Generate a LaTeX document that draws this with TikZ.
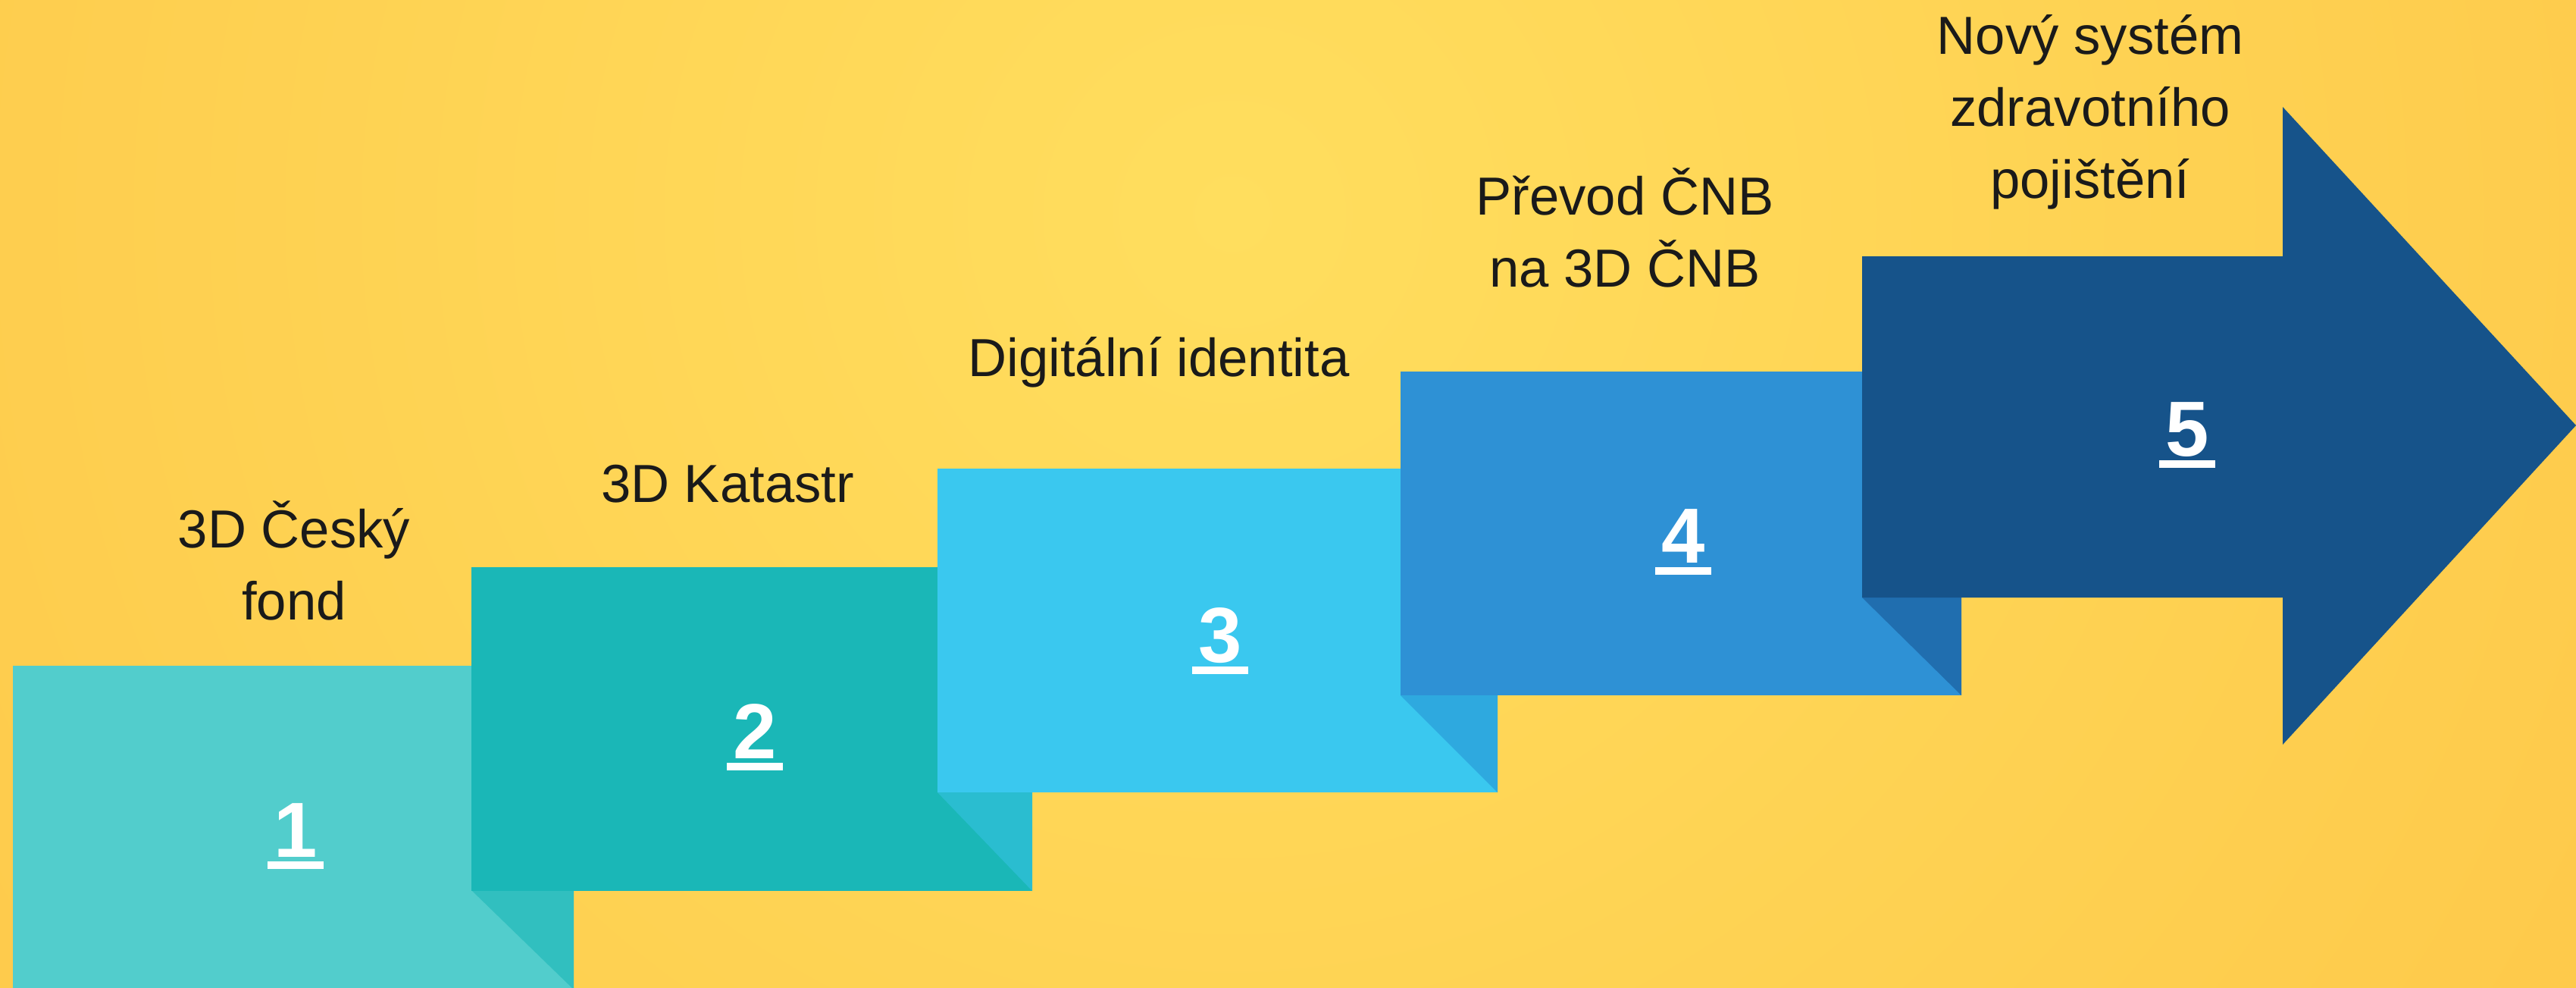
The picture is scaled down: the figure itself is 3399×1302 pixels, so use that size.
\documentclass[tikz,border=0pt]{standalone}
\usepackage{fontspec}
\setmainfont{Liberation Sans}
\definecolor{bgin}{HTML}{FFDE5E}
\definecolor{bgout}{HTML}{FDB638}
\definecolor{ink}{HTML}{1A1A1A}
\definecolor{stepa}{HTML}{52CDCC}
\definecolor{folda}{HTML}{31BFBF}
\definecolor{stepb}{HTML}{1AB7B7}
\definecolor{foldb}{HTML}{2ABDD0}
\definecolor{stepc}{HTML}{3AC8EF}
\definecolor{foldc}{HTML}{2EA9DF}
\definecolor{stepd}{HTML}{2E91D5}
\definecolor{foldd}{HTML}{206EAF}
\definecolor{stepe}{HTML}{16538A}
\newcommand\ulnum[1]{\makebox[0.74cm]{#1}\llap{\rule[-0.16cm]{0.74cm}{0.1cm}}}
\tikzset{
	lbl/.style={anchor=base, align=center, inner sep=0pt, text=ink,
		font=\fontsize{20.1}{26.9}\selectfont},
	num/.style={anchor=base, inner sep=0pt, text=white,
		font=\fontsize{29.3}{35}\selectfont\bfseries},
}
\begin{document}
\begin{tikzpicture}[x=0.01cm, y=-0.01cm]
		\useasboundingbox (0, 0) rectangle (3399, 1302);
		\begin{scope}
			\clip (0, 0) rectangle (3399, 1302);
			\shade [inner color=bgin, outer color=bgout] (1626, 282) circle (4000);
		\end{scope}
		% steps, each one folded under the next
		\fill [stepa] (17, 878) rectangle (757, 1305);
		\fill [folda] (622, 1174) -- (757, 1174) -- (757, 1305) -- cycle;
		\fill [stepb] (622, 748) rectangle (1362, 1175);
		\fill [foldb] (1237, 1045) -- (1362, 1045) -- (1362, 1175) -- cycle;
		\fill [stepc] (1237, 618) rectangle (1976, 1045);
		\fill [foldc] (1848, 917) -- (1976, 917) -- (1976, 1045) -- cycle;
		\fill [stepd] (1848, 490) rectangle (2588, 917);
		\fill [foldd] (2457, 788) -- (2588, 788) -- (2588, 917) -- cycle;
		\fill [stepe] (2457, 338) -- (3012, 338) -- (3012, 141) -- (3399, 561)
			-- (3012, 982) -- (3012, 788) -- (2457, 788) -- cycle;
		% numbers
		\path (390, 1130) node(n1) [num] {\ulnum{1}};
		\path (996, 1000) node(n2) [num] {\ulnum{2}};
		\path (1610, 873) node(n3) [num] {\ulnum{3}};
		\path (2221, 742) node(n4) [num] {\ulnum{4}};
		\path (2886, 601) node(n5) [num] {\ulnum{5}};
		% labels (placed by their last line)
		\path (388, 817) node(fond) [lbl] {3D Český\\fond};
		\path (960, 662) node(katastr) [lbl] {3D Katastr};
		\path (1529, 496) node(ident) [lbl] {Digitální identita};
		\path (2144, 378) node(cnb) [lbl] {Převod ČNB\\na 3D ČNB};
		\path (2758, 261) node(zdrav) [lbl] {Nový systém\\zdravotního\\pojištění};
	\end{tikzpicture}
\end{document}
